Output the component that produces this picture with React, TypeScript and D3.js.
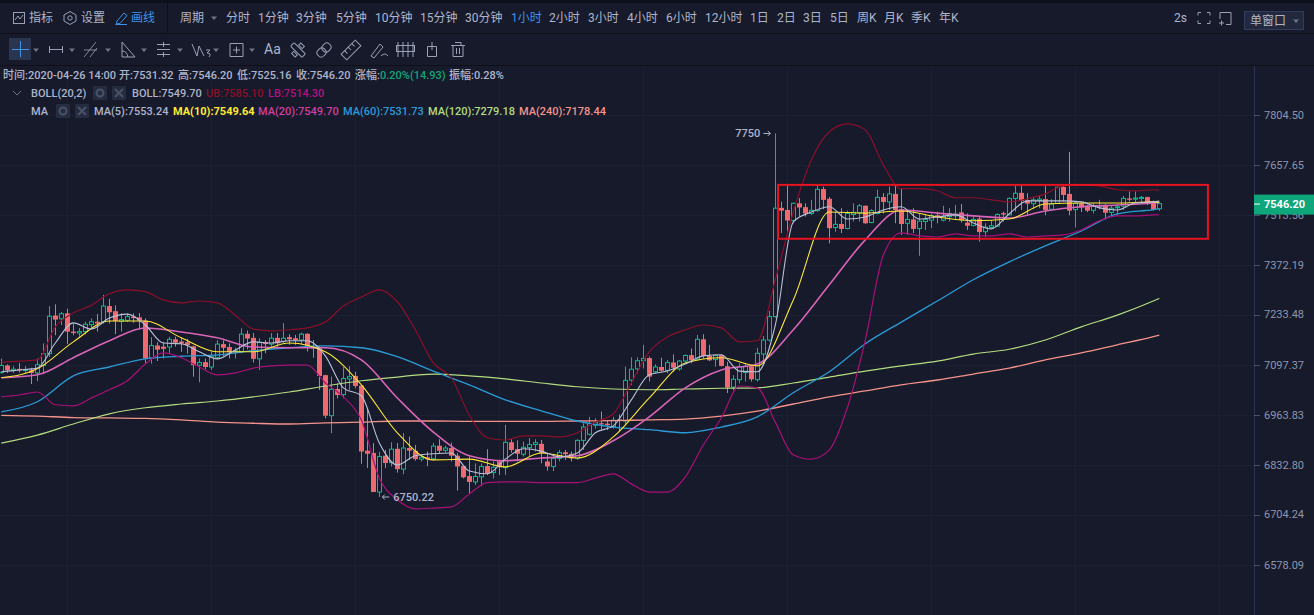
import React from 'react';
import * as d3 from 'd3';

const width = 1314;
const height = 615;

const opens = [
  7077,7096,7082,7087,7083,7083,7076,7096,7128,7232,
  7223,7238,7188,7184,7188,7207,7215,7215,7258,7244,
  7216,7219,7229,7227,7218,7116,7150,7147,7146,7167,
  7161,7159,7148,7097,7105,7092,7118,7154,7146,7133,
  7134,7182,7171,7114,7159,7154,7171,7161,7173,7170,
  7165,7182,7147,7143,7070,6962,7033,7018,7060,7068,
  7042,6870,6864,6763,6857,6839,6875,6822,6877,6870,
  6848,6853,6849,6883,6871,6877,6857,6830,6804,6789,
  6802,6830,6813,6842,6826,6892,6874,6861,6878,6886,
  6888,6842,6829,6850,6866,6862,6850,6897,6913,6937,
  6942,6941,6933,6952,6948,7057,7087,7109,7116,7079,
  7092,7083,7104,7087,7108,7124,7113,7167,7122,7112,
  7124,7094,7038,7058,7077,7094,7058,7127,7165,7229,
  7534,7528,7498,7547,7536,7518,7526,7588,7560,7478,
  7488,7475,7515,7520,7540,7492,7518,7565,7551,7574,
  7530,7490,7501,7475,7495,7499,7513,7499,7509,7511,
  7521,7492,7484,7503,7466,7478,7482,7519,7514,7561,
  7577,7556,7546,7555,7559,7530,7547,7594,7574,7529,
  7547,7540,7527,7537,7542,7521,7535,7539,7561,7559,
  7561,7565,7549,7531.32,
];
const highs = [
  7115,7099,7094,7103,7094,7090,7115,7156,7258,7263,
  7242,7251,7210,7198,7215,7224,7236,7289,7278,7260,
  7239,7238,7238,7239,7224,7173,7159,7159,7174,7174,
  7172,7168,7150,7115,7115,7134,7165,7164,7156,7144,
  7197,7191,7184,7170,7165,7184,7184,7211,7181,7179,
  7185,7184,7165,7149,7071,7066,7048,7092,7094,7079,
  7044,6981,6890,6867,6872,6892,6890,6916,6907,6885,
  6859,6868,6890,6900,6883,6891,6864,6831,6855,6837,
  6837,6874,6842,6846,6938,6903,6897,6894,6903,6900,
  6898,6864,6855,6872,6872,6868,6900,6942,6959,6955,
  6973,6950,6959,6965,7093,7118,7118,7152,7120,7099,
  7117,7111,7126,7111,7126,7142,7179,7181,7152,7126,
  7126,7106,7070,7102,7102,7097,7144,7176,7245,7750,
  7552,7600,7549,7562,7547,7557,7600,7595,7565,7523,
  7533,7526,7547,7545,7541,7530,7586,7576,7595,7597,
  7590,7528,7533,7518,7514,7518,7523,7540,7533,7542,
  7545,7518,7509,7509,7490,7499,7518,7523,7564,7597,
  7597,7576,7566,7569,7597,7559,7595,7597,7696,7552,
  7552,7542,7547,7557,7545,7542,7542,7568,7581,7581,
  7568,7566,7555,7546.2,
];
const lows = [
  7074,7076,7076,7077,7074,7046,7054,7074,7119,7178,
  7206,7154,7178,7174,7180,7194,7188,7210,7210,7181,
  7188,7214,7212,7194,7103,7101,7108,7115,7128,7147,
  7133,7128,7066,7051,7086,7084,7113,7122,7115,7115,
  7129,7140,7104,7084,7129,7140,7147,7156,7152,7152,
  7154,7134,7117,7030,6955,6916,7008,7008,7030,7035,
  6836,6825,6763,6750.22,6825,6829,6813,6809,6846,6844,
  6842,6830,6844,6862,6865,6842,6767,6798,6759,6781,
  6778,6807,6798,6807,6807,6865,6842,6855,6855,6868,
  6837,6818,6817,6842,6846,6842,6846,6872,6910,6928,
  6926,6924,6928,6921,6937,7044,7075,7088,7053,7075,
  7079,7075,7079,7082,7102,7102,7111,7115,7108,7093,
  7093,7022,7030,7048,7053,7053,7053,7097,7161,7226,
  7462,7462,7490,7509,7509,7514,7523,7530,7433,7466,
  7462,7473,7495,7495,7488,7490,7515,7518,7528,7490,
  7457,7457,7462,7398,7471,7476,7490,7495,7495,7499,
  7492,7471,7481,7438,7450,7476,7481,7495,7513,7523,
  7528,7513,7530,7533,7513,7528,7545,7552,7513,7478,
  7522,7522,7518,7530,7501,7513,7513,7528,7552,7549,
  7547,7542,7526,7525.16,
];
const closes = [
  7096,7083,7086,7083,7085,7076,7098,7128,7230,7221,
  7237,7188,7184,7188,7208,7215,7210,7258,7241,7217,
  7221,7229,7225,7218,7115,7150,7139,7141,7167,7158,
  7156,7151,7097,7104,7092,7120,7154,7144,7132,7136,
  7181,7169,7114,7159,7154,7170,7156,7170,7167,7165,
  7181,7147,7142,7068,6962,7032,7017,7061,7066,7041,
  6868,6862,6763,6855,6838,6874,6822,6877,6870,6848,
  6853,6848,6882,6870,6877,6857,6829,6801,6789,6803,
  6829,6811,6827,6827,6892,6872,6862,6879,6886,6891,
  6864,6829,6850,6865,6861,6850,6897,6932,6941,6944,
  6939,6937,6950,6949,7056,7086,7109,7115,7066,7092,
  7082,7104,7090,7108,7123,7110,7167,7122,7110,7123,
  7095,7037,7059,7093,7094,7059,7129,7165,7229,7533,
  7526,7498,7547,7535,7518,7527,7587,7557,7476,7487,
  7474,7518,7521,7540,7490,7526,7564,7551,7574,7528,
  7488,7501,7474,7496,7501,7512,7507,7509,7518,7516,
  7499,7483,7501,7465,7479,7483,7515,7515,7561,7576,
  7554,7546,7557,7559,7528,7545,7593,7571,7526,7547,
  7535,7526,7538,7540,7520,7533,7537,7561,7557,7562,
  7564,7547,7528,7546.2,
];

// read every 3 bars
const ma5 = [
  7079,7084,7089,7157,7212,7195,7225,7236,7206,7157,
  7155,7133,7114,7138,7160,7157,7163,7163,7122,7036,
  7015,6890,6833,6857,6862,6864,6817,6810,6848,6875,
  6869,6854,6864,6917,6935,7004,7071,7081,7100,7122,
  7125,7081,7079,7206,7494,7522,7537,7502,7508,7528,
  7537,7502,7508,7514,7491,7474,7517,7554,7554,7554,
  7551,7534,7528,7548,7551,7553.24,
];
const bollUpper = [
  7105,7108,7111,7201,7239,7260,7292,7303,7298,7275,
  7267,7272,7267,7233,7195,7190,7193,7198,7214,7258,
  7283,7303,7270,7193,7103,7063,6964,6904,6898,6909,
  6909,6906,6917,6945,6967,7049,7133,7173,7193,7206,
  7198,7160,7163,7331,7522,7672,7755,7778,7760,7658,
  7589,7589,7583,7563,7563,7557,7551,7560,7574,7597,
  7600,7597,7586,7583,7586,7585.1,
];
const bollLower = [
  7012,7017,7025,6991,6988,7009,7031,7055,7100,7130,
  7117,7092,7071,7076,7089,7095,7097,7097,7049,7012,
  6951,6799,6743,6720,6722,6725,6758,6787,6789,6789,
  6787,6787,6787,6799,6810,6784,6763,6763,6802,6885,
  6956,7041,7036,6945,6859,6848,6872,6983,7165,7400,
  7463,7454,7451,7460,7454,7454,7460,7451,7454,7457,
  7471,7497,7511,7511,7514,7514.3,
];
// read every 6 bars
const ma10 = [
  7063,7087,7160,7217,7217,7171,7133,7133,7157,7133,
  7044,6917,6846,6848,6828,6864,6851,6906,7009,7103,
  7117,7095,7275,7522,7519,7525,7508,7497,7502,7545,
  7548,7548,7551,7549.64,
];
const ma20 = [
  7063,7071,7117,7163,7198,7187,7171,7146,7144,7144,
  7111,7009,6919,6857,6844,6851,6857,6896,6959,7036,
  7084,7100,7193,7317,7443,7528,7519,7511,7505,7525,
  7537,7542,7548,7549.7,
];
const ma60 = [
  6972,6999,7068,7092,7114,7121,7125,7136,7144,7149,
  7144,7120,7081,7044,7004,6975,6948,6932,6925,6917,
  6932,6959,7023,7079,7155,7214,7272,7331,7381,7426,
  7468,7517,7529,7531.73,
];
const ma120 = [
  6890,6911,6940,6967,6983,6993,7001,7012,7025,7041,
  7055,7065,7073,7068,7060,7049,7039,7033,7031,7033,
  7035,7036,7049,7065,7081,7095,7108,7127,7140,7165,
  7201,7233,7272,7279.18,
];
const ma240 = [
  6963,6961,6957,6956,6955,6951,6945,6942,6940,6943,
  6945,6948,6948,6947,6947,6947,6948,6949,6951,6953,
  6961,6974,6993,7012,7028,7044,7057,7073,7089,7111,
  7130,7152,7174,7178.44,
];

const priceTicks = [7804.5, 7657.65, 7513.56, 7372.19, 7233.48, 7097.37, 6963.83, 6832.8, 6704.24, 6578.09];
const gridBars = [11, 35, 59, 83, 107, 131, 155, 179, 203];
const boxBars = [129.45, 201.1];
const boxPrices = [7600, 7446];

const periods = ['分时', '1分钟', '3分钟', '5分钟', '10分钟', '15分钟', '30分钟', '1小时', '2小时', '3小时', '4小时', '6小时', '12小时', '1日', '2日', '3日', '5日', '周K', '月K', '季K', '年K'];
const periodLeft = [226, 258, 296, 336, 375, 420, 465, 511, 549, 588, 627, 666, 705, 750, 777, 803, 830, 857, 884, 911, 939];

const BG = '#161a2b';
const UP = '#0fb985';
const DOWN = '#ee6a6e';
const TXT = '#aeb5cb';
const BLUE = '#3f92ea';
const FONT = 'Roboto, "Noto Sans CJK SC", sans-serif';

const x = d3.scaleLinear().domain([0, 193]).range([1.33, 1159.3]);
const y = d3.scaleLog().domain([7804.5, 6578.09]).range([115, 565]);

const every3 = [...d3.range(0, 193, 3), 193];
const every6 = [...d3.range(0, 193, 6), 193];

const lineFor = (bars: number[]) =>
  d3.line<number>()
    .x((_, i) => x(bars[i]))
    .y(d => y(d))
    .curve(d3.curveMonotoneX);

const seriesLines = [
  { values: ma240, bars: every6, color: '#f5938a', w: 1.3 },
  { values: ma120, bars: every6, color: '#b4dc7e', w: 1.2 },
  { values: ma60, bars: every6, color: '#2b9bd8', w: 1.3 },
  { values: bollUpper, bars: every3, color: '#8c0f2a', w: 1.2 },
  { values: bollLower, bars: every3, color: '#a81078', w: 1.2 },
  { values: ma20, bars: every6, color: '#d964b8', w: 1.6 },
  { values: ma10, bars: every6, color: '#ffe835', w: 1.1 },
  { values: ma5, bars: every3, color: '#b9c0d8', w: 1.1 },
];

const Label: React.FC<{ x: number; y: number; fill?: string; size?: number; weight?: number; anchor?: string; children: React.ReactNode }> = (
  { x: lx, y: ly, fill = TXT, size = 11, weight = 400, anchor = 'start', children },
) => (
  <text x={lx} y={ly} fill={fill} fontSize={size} fontWeight={weight} textAnchor={anchor as any} dominantBaseline="central" fontFamily={FONT}>
    {children}
  </text>
);

const Caret = ({ cx, cy, fill = '#6d7488' }: { cx: number; cy: number; fill?: string }) => (
  <path d={`M${cx - 3},${cy - 1.5}L${cx + 3},${cy - 1.5}L${cx},${cy + 2}Z`} fill={fill} />
);

const SettingBoxes = ({ left, cy }: { left: number; cy: number }) => (
  <g>
    {[0, 19].map(dx => (
      <g key={dx} transform={`translate(${left + dx},${cy - 7})`}>
        <rect width={14} height={14} fill="#262c40" />
        {dx === 0
          ? <circle cx={7} cy={7} r={3.5} fill="none" stroke="#4a5268" strokeWidth={2} />
          : <path d="M3,3L11,11M11,3L3,11" stroke="#4a5268" strokeWidth={2} />}
      </g>
    ))}
  </g>
);

const ICON = { fill: 'none', stroke: '#9aa1b6', strokeWidth: 1 };

const Toolbar = () => (
  <g>
    <rect x={0} y={0} width={width} height={3} fill="#0d1019" />
    <line x1={0} x2={width} y1={33.5} y2={33.5} stroke="#0d1019" />
    <line x1={0} x2={width} y1={65.5} y2={65.5} stroke="#0d1019" />
    <line x1={167.5} x2={167.5} y1={3} y2={33} stroke="#0d1019" />

    <g {...ICON}>
      <rect x={13.5} y={12.5} width={11} height={11} />
      <path d="M15,20L18,16L20,19L23,15" />
      <path d="M70,11.5L76,15V21L70,24.5L64,21V15Z" />
      <circle cx={70} cy={18} r={2.2} />
      <path d="M115.5,24.5H127M117,21L124,13L127,15.5L120,23.5L116.5,24Z" stroke={BLUE} />
    </g>
    <Label x={29} y={18} size={12}>指标</Label>
    <Label x={81} y={18} size={12}>设置</Label>
    <Label x={131} y={18} size={12} fill={BLUE}>画线</Label>
    <Label x={180} y={18} size={12}>周期</Label>
    <Caret cx={214} cy={18} />
    {periods.map((p, i) => (
      <Label key={p} x={periodLeft[i]} y={18} size={12} fill={p === '1小时' ? BLUE : TXT}>{p}</Label>
    ))}
    <Label x={1174} y={18} size={12}>2s</Label>
    <g {...ICON}>
      <path d="M1198,12.5H1201M1198,12.5V15.5M1210,12.5H1207M1210,12.5V15.5M1198,23.5H1201M1198,23.5V20.5M1210,23.5H1207M1210,23.5V20.5" />
      <path d="M1220,12.5H1231V24.5H1226M1220,12.5V19M1219,23H1224M1221.5,20.5V25.5" />
    </g>
    <rect x={1244.5} y={11.5} width={59} height={18} fill="#22293f" stroke="#323c5c" />
    <Label x={1250} y={21} size={12}>单窗口</Label>
    <Caret cx={1296} cy={21} />

    <rect x={9} y={38} width={22} height={22} fill="#2a3650" />
    <path d="M20.5,41V57M12,49.5H29" stroke={BLUE} fill="none" />
    {[36, 72, 108, 144, 180, 216, 252].map(cx => <Caret key={cx} cx={cx} cy={50} />)}
    <g {...ICON}>
      <path d="M49,49.5H63M49.5,46V53M62.5,46V53" />
      <path d="M84,57L96,42M90,57L97,48M84,50L97,50" strokeWidth={0.8} />
      <path d="M122,42V57H135ZM122,51Q127,51 128,57" />
      <path d="M157,44.5H170M157,49.5H170M157,54.5H170M163.5,42V47M163.5,52V57" />
      <path d="M192,44L197,56L199,46L204,56M206,50L210,50L207,53Q212,53 209,57" />
      <path d="M230,43.5H243V56.5H230ZM233,50H240M236.5,46.5V53.5" />
      <g transform="translate(298,50) rotate(45)">
        <rect x={-8} y={-2.5} width={16} height={5} rx={1} />
        <rect x={-3} y={-7} width={5} height={3} />
        <rect x={-2} y={4} width={5} height={3} />
      </g>
      <g transform="translate(324,50) rotate(-45)">
        <rect x={-8} y={-4} width={9} height={8} rx={3.5} />
        <rect x={-1} y={-4} width={9} height={8} rx={3.5} />
      </g>
      <g transform="translate(351,50) rotate(-45)">
        <rect x={-10} y={-4} width={20} height={8} />
        <path d="M-5,-4V0M0,-4V0M5,-4V0" />
      </g>
      <path d="M371,56L380,44L383,47L374,58ZM381,56Q385,52 388,56" />
      <path d="M398,42V57M403,42V57M408,42V57M413,42V57" />
      <rect x={396.5} y={45.5} width={18} height={6} />
      <path d="M427.5,46.5H436.5V56.5H427.5ZM432,42V50" />
      <path d="M451,45.5H465M453,45.5V56.5H463V45.5M455,42.5H461V45.5M456.5,48V54M459.5,48V54" />
    </g>
    <Label x={264} y={49} size={14}>Aa</Label>
  </g>
);

const Legend = () => (
  <g>
    <Label x={3} y={75} weight={500}>时间:2020-04-26 14:00</Label>
    <Label x={119} y={75} weight={500}>开:7531.32</Label>
    <Label x={178} y={75} weight={500}>高:7546.20</Label>
    <Label x={237} y={75} weight={500}>低:7525.16</Label>
    <Label x={296} y={75} weight={500}>收:7546.20</Label>
    <Label x={355} y={75} weight={500}>涨幅:</Label>
    <Label x={380} y={75} fill="#0ea67a" weight={500}>0.20%(14.93)</Label>
    <Label x={449} y={75} weight={500}>振幅:0.28%</Label>

    <path d="M13,91L17,95L21,91" fill="none" stroke="#6d7488" />
    <Label x={31} y={93} weight={500}>BOLL(20,2)</Label>
    <SettingBoxes left={93} cy={93} />
    <Label x={132} y={93} weight={500}>BOLL:7549.70</Label>
    <Label x={206} y={93} fill="#8c0f2a" weight={500}>UB:7585.10</Label>
    <Label x={268} y={93} fill="#b3127f" weight={500}>LB:7514.30</Label>

    <Label x={31} y={111} weight={500}>MA</Label>
    <SettingBoxes left={56} cy={111} />
    <Label x={94} y={111} weight={500}>MA(5):7553.24</Label>
    <Label x={173} y={111} fill="#ffe835" weight={700}>MA(10):7549.64</Label>
    <Label x={258} y={111} fill="#d13f9f" weight={500}>MA(20):7549.70</Label>
    <Label x={343} y={111} fill="#2b9bd8" weight={500}>MA(60):7531.73</Label>
    <Label x={428} y={111} fill="#b4dc7e" weight={500}>MA(120):7279.18</Label>
    <Label x={519} y={111} fill="#f5938a" weight={500}>MA(240):7178.44</Label>
  </g>
);

export default function App() {
  const lastClose = closes[closes.length - 1];
  return (
    <svg width={width} height={height} viewBox={`0 0 ${width} ${height}`} style={{ position: 'fixed', left: 0, top: 0, display: 'block' }}>
      <rect width={width} height={height} fill={BG} />

      {/* grid */}
      <g stroke="#1b2033" strokeWidth={1}>
        {priceTicks.map(t => <line key={t} x1={0} x2={1254} y1={Math.round(y(t)) + 0.5} y2={Math.round(y(t)) + 0.5} />)}
        {gridBars.map(b => <line key={b} x1={Math.round(x(b)) + 0.5} x2={Math.round(x(b)) + 0.5} y1={66} y2={height} />)}
      </g>

      <Toolbar />
      <Legend />

      {/* candles */}
      <g>
        {opens.map((o, i) => {
          const c = closes[i];
          const up = c >= o;
          const cx = Math.round(x(i));
          const top = y(Math.max(o, c));
          const bottom = y(Math.min(o, c));
          return (
            <g key={i}>
              <line x1={cx + 0.5} x2={cx + 0.5} y1={y(highs[i])} y2={y(lows[i])} stroke={up ? UP : DOWN} />
              {up
                ? <rect x={cx - 1.5} y={top} width={4} height={Math.max(bottom - top, 1)} fill={BG} stroke={UP} />
                : <rect x={cx - 2} y={top} width={5} height={Math.max(bottom - top, 1)} fill={DOWN} />}
            </g>
          );
        })}
      </g>

      {/* averages and bands */}
      <g fill="none" strokeLinejoin="round">
        {seriesLines.map(s => <path key={s.color} d={lineFor(s.bars)(s.values) ?? ''} stroke={s.color} strokeWidth={s.w} />)}
      </g>

      <rect
        x={x(boxBars[0])}
        y={y(boxPrices[0])}
        width={x(boxBars[1]) - x(boxBars[0])}
        height={y(boxPrices[1]) - y(boxPrices[0])}
        fill="none"
        stroke="#e8131f"
        strokeWidth={2}
      />

      {/* extreme labels */}
      <Label x={x(129) - 40} y={y(7750)} weight={500}>7750</Label>
      <path d={`M${x(129) - 12},${y(7750)}h7m-2.5,-2.5l2.5,2.5l-2.5,2.5`} fill="none" stroke={TXT} />
      <path d={`M${x(63) + 10},${y(6750.22)}h-7m2.5,-2.5l-2.5,2.5l2.5,2.5`} fill="none" stroke={TXT} />
      <Label x={x(63) + 14} y={y(6750.22)} weight={500}>6750.22</Label>

      {/* price axis */}
      <rect x={1254} y={66} width={60} height={height - 66} fill={BG} />
      <line x1={1254.5} x2={1254.5} y1={66} y2={height} stroke="#2c3552" />
      {priceTicks.map(t => (
        <g key={t}>
          <line x1={1254} x2={1260} y1={Math.round(y(t)) + 0.5} y2={Math.round(y(t)) + 0.5} stroke="#4a5268" />
          <Label x={1264} y={y(t)} fill="#8f96ab">{d3.format('.2f')(t)}</Label>
        </g>
      ))}
      <rect x={1254} y={y(lastClose) - 9} width={60} height={20} fill="#0ea67a" />
      <line x1={1254} x2={1260} y1={y(lastClose) + 0.5} y2={y(lastClose) + 0.5} stroke="#fff" />
      <Label x={1264} y={y(lastClose) + 0.5} fill="#fff" weight={700}>{d3.format('.2f')(lastClose)}</Label>
    </svg>
  );
}
